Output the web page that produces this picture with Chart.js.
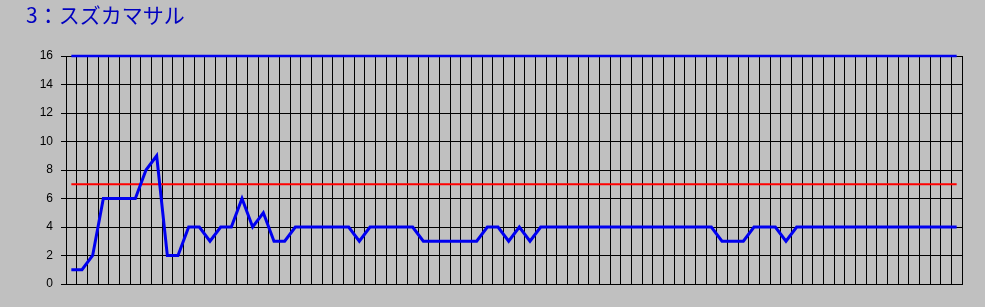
<!DOCTYPE html>
<html>
<head>
<meta charset="utf-8">
<script src="https://cdn.jsdelivr.net/npm/chart.js@4/dist/chart.umd.min.js"></script>
<style>
    html, body { margin: 0; padding: 0; background: #c0c0c0; }
    #wrap { width: 985px; height: 307px; position: relative; }
</style>
</head>
<body>
<div id="wrap"><canvas id="chart"></canvas></div>
<script>
// Chart data
const titleText = '3：スズカマサル';
const raceValues = [
    1, 1, 2, 6, 6, 6, 6, 8, 9, 2,
    2, 4, 4, 3, 4, 4, 6, 4, 5, 3,
    3, 4, 4, 4, 4, 4, 4, 3, 4, 4,
    4, 4, 4, 3, 3, 3, 3, 3, 3, 4,
    4, 3, 4, 3, 4, 4, 4, 4, 4, 4,
    4, 4, 4, 4, 4, 4, 4, 4, 4, 4,
    4, 3, 3, 3, 4, 4, 4, 3, 4, 4,
    4, 4, 4, 4, 4, 4, 4, 4, 4, 4,
    4, 4, 4, 4
];
const categories = raceValues.map((v, i) => String(i + 1));
const redLevel = 7;
const topLevel = 16;
const yTicks = [0, 2, 4, 6, 8, 10, 12, 14, 16];

(function() {
    const ctx = document.getElementById('chart');

    new Chart(ctx, {
        type: 'line',
        data: {
            labels: categories,
            datasets: [
                {
                    data: raceValues,
                    borderColor: '#0000f0',
                    borderWidth: 3,
                    pointRadius: 0,
                    tension: 0
                },
                {
                    data: categories.map(() => redLevel),
                    borderColor: '#ff0000',
                    borderWidth: 2,
                    pointRadius: 0
                },
                {
                    data: categories.map(() => topLevel),
                    borderColor: '#0000f0',
                    borderWidth: 2.5,
                    pointRadius: 0,
                    clip: false
                }
            ]
        },
        options: {
            responsive: true,
            maintainAspectRatio: false,
            animation: false,
            layout: {
                padding: { left: 26, right: 23, top: 0, bottom: 23 }
            },
            plugins: {
                legend: { display: false },
                tooltip: { enabled: false },
                title: {
                    display: true,
                    text: titleText,
                    align: 'start',
                    color: '#0000c0',
                    font: { family: '"Noto Sans CJK JP", sans-serif', size: 21, weight: 'normal', lineHeight: 25 / 21 },
                    padding: { top: 3, bottom: 28 }
                }
            },
            scales: {
                x: {
                    offset: true,
                    grid: {
                        offset: true,
                        color: '#000000',
                        lineWidth: 1,
                        drawTicks: false
                    },
                    border: { color: '#000000' },
                    ticks: { display: false },
                    afterFit(scale) { scale.height = 0; }
                },
                y: {
                    min: 0,
                    max: 16,
                    afterBuildTicks(scale) {
                        scale.ticks = yTicks.map(v => ({ value: v }));
                    },
                    afterFit(scale) { scale.width = 40; },
                    grid: {
                        color: '#000000',
                        lineWidth: 1,
                        tickLength: 5
                    },
                    border: { color: '#000000' },
                    ticks: {
                        color: '#000000',
                        padding: 8,
                        font: { family: '"Liberation Sans", Arial, sans-serif', size: 12 }
                    }
                }
            }
        }
    });
})();
</script>
</body>
</html>
